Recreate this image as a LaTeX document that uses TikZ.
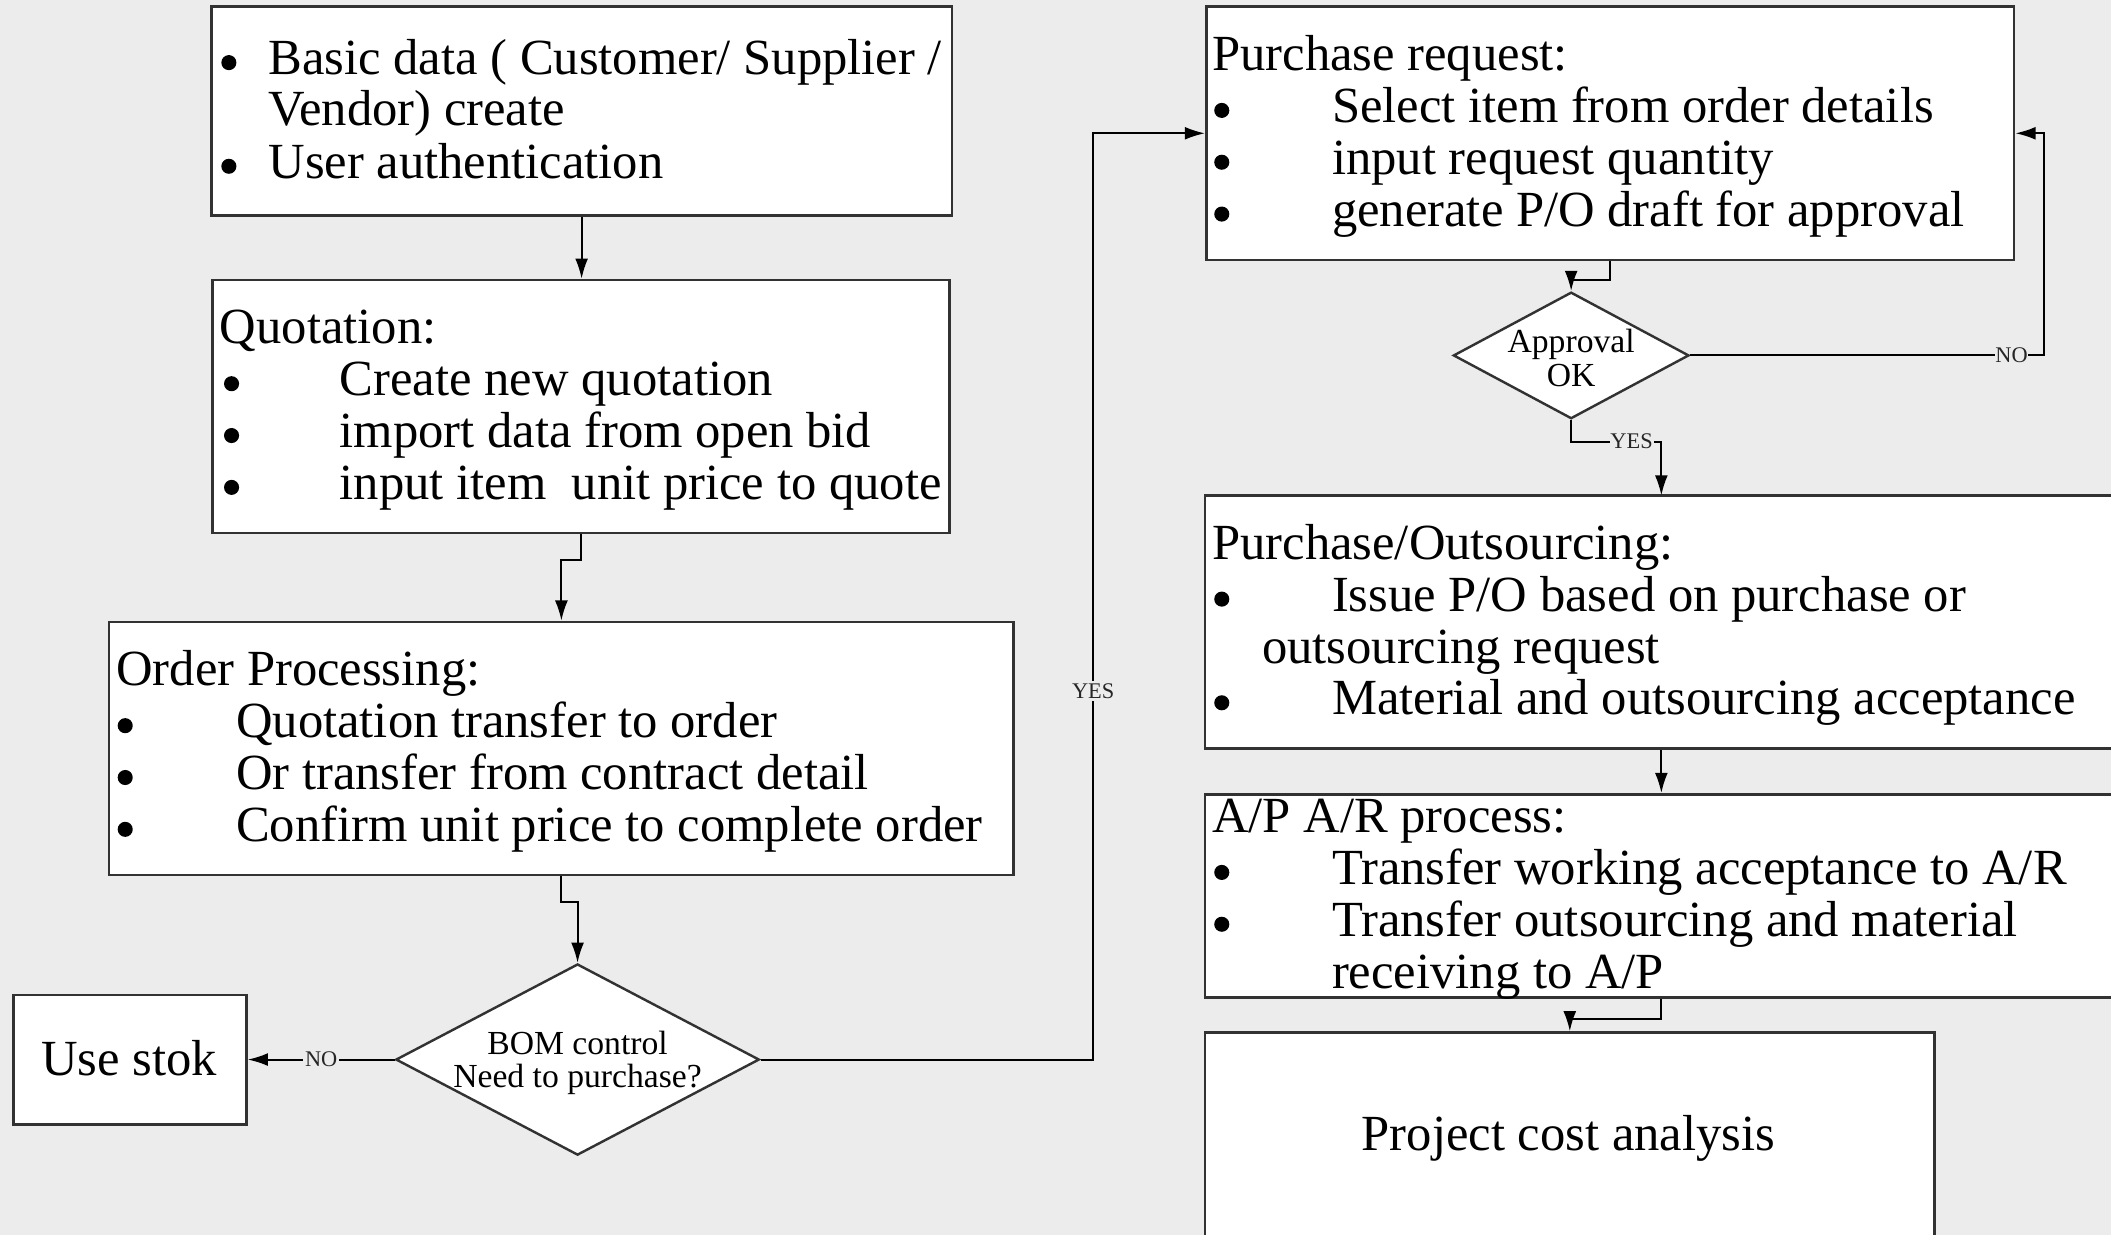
\documentclass[tikz,border=0pt]{standalone}
\usepackage{fontspec}
\setmainfont{Liberation Serif}
\usetikzlibrary{arrows.meta,shapes.geometric,calc}
\definecolor{bgc}{RGB}{236,236,236}
\definecolor{bordc}{RGB}{50,50,50}
\begin{document}
\begin{tikzpicture}[x=0.5pt,y=-0.5pt,
  box/.style={draw=bordc,line width=1pt,fill=white,rectangle,inner sep=0pt},
  dia/.style={draw=bordc,line width=0.9pt,fill=white,diamond,inner sep=0pt},
  conn/.style={draw=black,line width=0.7pt,-{Latex[length=7.5pt,width=4.8pt]}},
  txt/.style={anchor=base west,inner sep=0pt,font=\fontsize{18.8}{19.25}\selectfont},
  bul/.style={circle,fill=black,inner sep=0pt,minimum size=5.6pt},
  ctxt/.style={anchor=base,inner sep=0pt,font=\fontsize{18.8}{19.25}\selectfont},
  dtxt/.style={anchor=base,inner sep=0pt,font=\fontsize{12.5}{12.5}\selectfont},
  lbl/.style={font=\fontsize{8.3}{9}\selectfont,fill=bgc,inner sep=0.8pt,text=black!85}]
\useasboundingbox (0,0) rectangle (1568,917);
\fill[bgc] (0,0) rectangle (1568,917);
\clip (0,0) rectangle (1568,917);

% boxes
\node[box,minimum width=275pt,minimum height=77.5pt] (A) at (432,82.5) {};
\node[box,minimum width=273.5pt,minimum height=94pt] (B) at (431.5,302) {};
\node[box,minimum width=336pt,minimum height=94pt] (C) at (417,556) {};
\node[box,minimum width=86.5pt,minimum height=48pt] (E) at (96.5,787) {};
\node[box,minimum width=300pt,minimum height=94pt] (F) at (1196,99) {};
\node[box,minimum width=347.5pt,minimum height=94pt] (H) at (1242.5,462) {};
\node[box,minimum width=347.5pt,minimum height=75.5pt] (I) at (1242.5,665.5) {};
\node[box,minimum width=271pt,minimum height=86.5pt] (J) at (1166,853.5) {};
\node[dia,minimum width=135pt,minimum height=71pt] (D) at (429,787) {};
\node[dia,minimum width=87.5pt,minimum height=47pt] (G) at (1167,264) {};

% box A
\node[bul] at (170,46.5) {};
\node[txt] (a1) at (199,55.5) {Basic data ( Customer/ Supplier /};
\node[txt] (a2) at (199,93.5) {Vendor) create};
\node[bul] at (170,123.5) {};
\node[txt] (a3) at (199,132.5) {User authentication};

% box B
\node[txt] (b0) at (163,255.5) {Quotation:};
\node[bul] at (172,285) {};
\node[txt] (b1) at (252,294) {Create new quotation};
\node[bul] at (172,323.5) {};
\node[txt] (b2) at (252,332.5) {import data from open bid};
\node[bul] at (172,362) {};
\node[txt] (b3) at (252,371) {input item\ \ unit price to quote};

% box C
\node[txt] (c0) at (86,509.5) {Order Processing:};
\node[bul] at (93,539) {};
\node[txt] (c1) at (175,548) {Quotation transfer to order};
\node[bul] at (93,577.5) {};
\node[txt] (c2) at (175,586.5) {Or transfer from contract detail};
\node[bul] at (93,616) {};
\node[txt] (c3) at (175,625) {Confirm unit price to complete order};

% box E
\node[ctxt] (e0) at (96,798.5) {Use stok};

% diamond D
\node[dtxt] (d1) at (429,783) {BOM control};
\node[dtxt] (d2) at (429,808) {Need to purchase?};

% box F
\node[txt] (f0) at (900,52.7) {Purchase request:};
\node[bul] at (907.5,82) {};
\node[txt] (f1) at (989,91) {Select item from order details};
\node[bul] at (907.5,120.5) {};
\node[txt] (f2) at (989,129.5) {input request quantity};
\node[bul] at (907.5,159) {};
\node[txt] (f3) at (989,168) {generate P/O draft for approval};

% diamond G
\node[dtxt] (g1) at (1167,262) {Approval};
\node[dtxt] (g2) at (1167,287) {OK};

% box H
\node[txt] (h0) at (900,415.5) {Purchase/Outsourcing:};
\node[bul] at (907.5,445) {};
\node[txt] (h1) at (989,454) {Issue P/O based on purchase or};
\node[txt] (h2) at (937,492.5) {outsourcing request};
\node[bul] at (907.5,522) {};
\node[txt] (h3) at (989,531) {Material and outsourcing acceptance};

% box I
\node[txt] (i0) at (900,618.5) {A/P A/R process:};
\node[bul] at (907.5,648) {};
\node[txt] (i1) at (989,657) {Transfer working acceptance to A/R};
\node[bul] at (907.5,686.5) {};
\node[txt] (i2) at (989,695.5) {Transfer outsourcing and material};
\node[txt] (i3) at (989,734) {receiving to A/P};

% box J
\node[ctxt] (j0) at (1165,854.5) {Project cost analysis};

% helper coordinates
\coordinate (hx) at (1234,368);
\coordinate (yesx) at (812,787);
\coordinate (nox) at (1518,264);
\coordinate (yesg) at (1234,328);

% connectors
\draw[conn] (A.south) -- (A.south |- B.north);
\draw[conn] (B.south) -- ++(0,19) -| (C.north);
\draw[conn] (C.south) -- ++(0,19) -| (D.north);
\draw[conn] (D.west) -- node[lbl,pos=0.5] {NO} (E.east);
\draw[conn] (D.east) -- (yesx) -- node[lbl,pos=0.398] {YES} (yesx |- F.west) -- (F.west);
\draw[conn] (F.south) -- ++(0,14) -| (G.north);
\draw[conn] (G.east) -- node[lbl,pos=0.909,inner sep=0.3pt] {NO} (nox) -- (nox |- F.east) -- (F.east);
\draw[conn] (G.south) -- (G.south |- yesg) -- node[lbl,pos=0.67,inner sep=0.3pt] {YES} (yesg) -- (hx);
\draw[conn] (H.south -| hx) -- (I.north -| hx);
\draw[conn] (I.south -| hx) -- ++(0,15) -| (J.north);
\end{tikzpicture}
\end{document}
